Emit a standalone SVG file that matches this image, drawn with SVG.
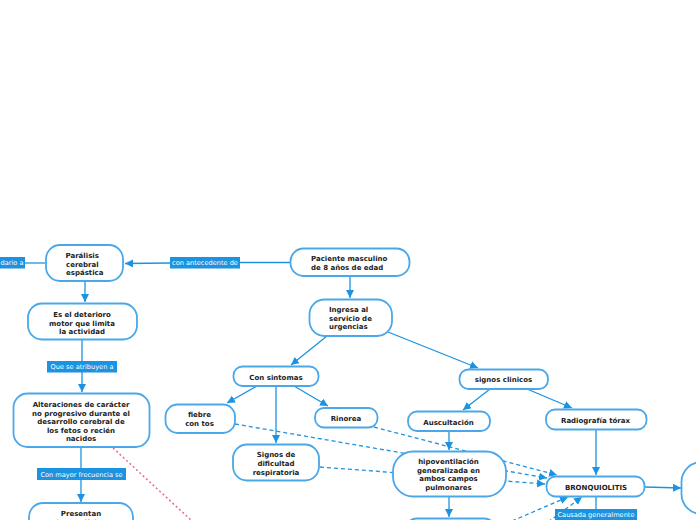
<svg xmlns="http://www.w3.org/2000/svg" width="696" height="520" viewBox="0 0 696 520">
<style>
.n{fill:#fff;stroke:#4aa8ea;stroke-width:1.8}
.t{font-family:"DejaVu Sans",Verdana,sans-serif;font-weight:bold;font-size:7px;fill:#222;text-anchor:middle}
.s{text-anchor:start}
.c{fill:none;stroke:#1c93e0;stroke-width:1.3}
.d{fill:none;stroke:#1c93e0;stroke-width:1.3;stroke-dasharray:4 3}
.p{fill:none;stroke:#e8669a;stroke-width:1.5;stroke-dasharray:2 2.5}
.lb{fill:#1c93e0}
.lt{font-family:"DejaVu Sans",Verdana,sans-serif;font-size:6.6px;fill:#fff;text-anchor:middle}
</style>
<defs>
<marker id="a" markerUnits="userSpaceOnUse" markerWidth="9" markerHeight="9" refX="8" refY="4" orient="auto">
<path d="M0,0 L8,4 L0,8 z" fill="#1c93e0"/>
</marker>
</defs>
<rect width="696" height="520" fill="#fff"/>
<g id="connectors">
<line class="c" x1="290" y1="262.5" x2="240" y2="262.5"/>
<line class="c" x1="170" y1="263" x2="125" y2="263.5" marker-end="url(#a)"/>
<line class="c" x1="45" y1="263" x2="25" y2="263"/>
<line class="c" x1="85" y1="281" x2="85" y2="302" marker-end="url(#a)"/>
<line class="c" x1="82" y1="339" x2="82" y2="361"/>
<line class="c" x1="82" y1="372" x2="82" y2="392" marker-end="url(#a)"/>
<line class="c" x1="81" y1="447" x2="81" y2="468"/>
<line class="c" x1="81" y1="480" x2="81" y2="502" marker-end="url(#a)"/>
<line class="p" x1="113" y1="448" x2="192" y2="521"/>
<line class="c" x1="350" y1="276" x2="350" y2="298" marker-end="url(#a)"/>
<line class="c" x1="327" y1="336" x2="291" y2="365" marker-end="url(#a)"/>
<line class="c" x1="388" y1="332" x2="478" y2="368" marker-end="url(#a)"/>
<line class="c" x1="257" y1="386" x2="227" y2="403" marker-end="url(#a)"/>
<line class="c" x1="276" y1="386" x2="276" y2="443" marker-end="url(#a)"/>
<line class="c" x1="294" y1="386" x2="328" y2="406" marker-end="url(#a)"/>
<line class="c" x1="490" y1="389" x2="463" y2="410" marker-end="url(#a)"/>
<line class="c" x1="527" y1="389" x2="572" y2="408" marker-end="url(#a)"/>
<line class="c" x1="449" y1="431" x2="449" y2="450" marker-end="url(#a)"/>
<line class="c" x1="596" y1="430" x2="596" y2="475" marker-end="url(#a)"/>
<line class="c" x1="645" y1="487" x2="681" y2="488" marker-end="url(#a)"/>
<line class="c" x1="596" y1="497" x2="596" y2="509"/>
<line class="c" x1="449" y1="497" x2="449" y2="517" marker-end="url(#a)"/>
<line class="d" x1="374" y1="427" x2="557" y2="475" marker-end="url(#a)"/>
<line class="d" x1="235" y1="424" x2="547" y2="478" marker-end="url(#a)"/>
<line class="d" x1="320" y1="467" x2="545" y2="484" marker-end="url(#a)"/>
<line class="d" x1="512" y1="521" x2="568" y2="497" marker-end="url(#a)"/>
<line class="d" x1="548" y1="522" x2="582" y2="497" marker-end="url(#a)"/>
<g id="labels">
<rect class="lb" x="-2" y="257" width="27" height="11.5"/>
<text class="lt" x="12" y="265.2">dario a</text>
<rect class="lb" x="170" y="257" width="70" height="11.5"/>
<text class="lt" x="205" y="265.2">con antecedente de</text>
<rect class="lb" x="47" y="361" width="70" height="11.5"/>
<text class="lt" x="82" y="369.2">Que se atribuyen a</text>
<rect class="lb" x="37" y="468" width="89" height="12"/>
<text class="lt" x="81.5" y="476.5">Con mayor frecuencia se</text>
<rect class="lb" x="555" y="509" width="82" height="11.5"/>
<text class="lt" x="596" y="517.2">Causada generalmente</text>
</g>
</g>
<g id="n-paralisis"><rect class="n" x="46" y="245" width="77" height="36" rx="14"/>
<text class="t s" x="65.5" y="258">Parálisis</text><text class="t s" x="66" y="266.5">cerebral</text><text class="t s" x="66" y="275">espástica</text></g>
<g id="n-deterioro"><rect class="n" x="28" y="303.5" width="109" height="36" rx="14"/>
<text class="t" x="82" y="317">Es el deterioro</text><text class="t" x="82" y="325.5">motor que limita</text><text class="t" x="82" y="334">la actividad</text></g>
<g id="n-alteraciones"><rect class="n" x="13.5" y="393.5" width="136" height="53.5" rx="14"/>
<text class="t" x="81" y="407">Alteraciones de carácter</text><text class="t" x="81" y="415.5">no progresivo durante el</text><text class="t" x="81" y="424">desarrollo cerebral de</text><text class="t" x="81" y="432.5">los fetos o recién</text><text class="t" x="81" y="441">nacidos</text></g>
<g id="n-presentan"><rect class="n" x="29" y="503" width="104" height="40" rx="14"/>
<text class="t" x="81" y="516">Presentan</text><text class="t" x="81" y="524.5">signos clínicos</text></g>
<g id="n-paciente"><rect class="n" x="290.5" y="248.5" width="119" height="27.5" rx="13"/>
<text class="t s" x="311" y="261">Paciente masculino</text><text class="t s" x="311" y="270">de 8 años de edad</text></g>
<g id="n-ingresa"><rect class="n" x="309.5" y="299.5" width="82.5" height="36.5" rx="15"/>
<text class="t s" x="329" y="312">Ingresa al</text><text class="t s" x="329" y="320.5">servicio de</text><text class="t s" x="329" y="329">urgencias</text></g>
<g id="n-sintomas"><rect class="n" x="233.5" y="366.5" width="85" height="19.5" rx="9"/>
<text class="t" x="276" y="379.5">Con sintomas</text></g>
<g id="n-fiebre"><rect class="n" x="165.5" y="404.5" width="69.5" height="28.5" rx="12"/>
<text class="t" x="199.5" y="417">fiebre</text><text class="t" x="199.5" y="426">con tos</text></g>
<g id="n-rinorea"><rect class="n" x="315" y="408" width="62.5" height="19.5" rx="9"/>
<text class="t" x="346" y="421">Rinorea</text></g>
<g id="n-dificultad"><rect class="n" x="233" y="444.5" width="86" height="36" rx="14"/>
<text class="t" x="276" y="457">Signos de</text><text class="t" x="276" y="466">dificultad</text><text class="t" x="276" y="474.5">respiratoria</text></g>
<g id="n-signos"><rect class="n" x="459.5" y="369.5" width="88.5" height="19.5" rx="9"/>
<text class="t" x="503.5" y="382">signos clinicos</text></g>
<g id="n-auscultacion"><rect class="n" x="408" y="411.5" width="82" height="19.5" rx="9"/>
<text class="t" x="448.5" y="424.5">Auscultación</text></g>
<g id="n-radiografia"><rect class="n" x="546" y="409.5" width="100.5" height="20" rx="9"/>
<text class="t" x="595.5" y="422.5">Radiografía tórax</text></g>
<g id="n-hipoventilacion"><rect class="n" x="393" y="451.5" width="113" height="45" rx="20"/>
<text class="t" x="448.5" y="464">hipoventilación</text><text class="t" x="448.5" y="472.5">generalizada en</text><text class="t" x="448.5" y="481">ambos campos</text><text class="t" x="448.5" y="489.5">pulmonares</text></g>
<g id="n-bronquiolitis"><rect class="n" x="546.5" y="476.5" width="98" height="20" rx="9"/>
<text class="t" x="596" y="489.5">BRONQUIOLITIS</text></g>
<g id="n-right"><rect class="n" x="681.5" y="462" width="40" height="52" rx="20"/></g>
<g id="n-below"><rect class="n" x="405" y="518.5" width="91" height="30" rx="12"/></g>
</svg>
